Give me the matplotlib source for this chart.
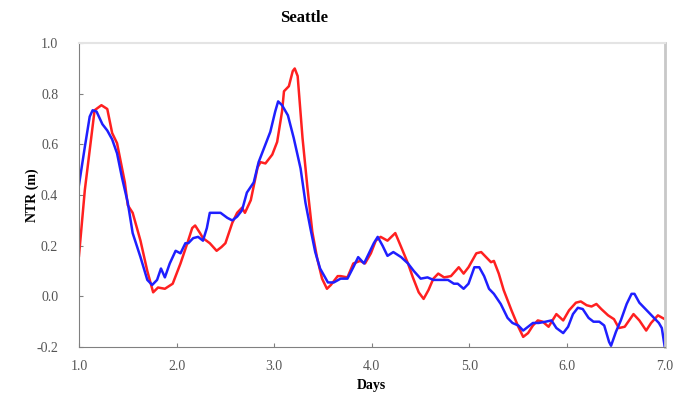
import matplotlib
matplotlib.use("Agg")
import matplotlib.pyplot as plt
import numpy as np

# Non-tidal residual at Seattle: observed (red) and modelled (blue)
red_days = [1.00, 1.06, 1.16, 1.23, 1.29, 1.34, 1.39, 1.47, 1.50, 1.55, 1.63, 1.70, 1.76,
            1.81, 1.88, 1.96, 2.04, 2.11, 2.16, 2.19, 2.24, 2.27, 2.34, 2.41, 2.46, 2.50,
            2.57, 2.62, 2.67, 2.70, 2.76, 2.83, 2.86, 2.91, 2.98, 3.03, 3.08, 3.10, 3.15,
            3.19, 3.21, 3.24, 3.29, 3.34, 3.39, 3.44, 3.49, 3.54, 3.58, 3.65, 3.68, 3.75,
            3.81, 3.88, 3.93, 3.99, 4.04, 4.09, 4.16, 4.24, 4.30, 4.37, 4.42, 4.48, 4.53,
            4.58, 4.63, 4.68, 4.74, 4.81, 4.89, 4.94, 4.99, 5.07, 5.12, 5.17, 5.22, 5.25,
            5.30, 5.35, 5.43, 5.50, 5.55, 5.60, 5.65, 5.70, 5.75, 5.81, 5.89, 5.96, 6.02,
            6.09, 6.14, 6.20, 6.25, 6.30, 6.35, 6.42, 6.48, 6.53, 6.59, 6.68, 6.74, 6.81,
            6.86, 6.93, 7.00]
red_ntr = [0.16, 0.42, 0.735, 0.755, 0.74, 0.645, 0.605, 0.45, 0.36, 0.33, 0.22, 0.10, 0.016,
           0.035, 0.03, 0.05, 0.13, 0.21, 0.27, 0.28, 0.25, 0.23, 0.21, 0.18, 0.195, 0.21,
           0.29, 0.33, 0.35, 0.33, 0.38, 0.51, 0.53, 0.525, 0.56, 0.61, 0.73, 0.81, 0.83,
           0.89, 0.90, 0.87, 0.625, 0.43, 0.255, 0.15, 0.07, 0.03, 0.045, 0.08, 0.08, 0.075,
           0.13, 0.14, 0.13, 0.17, 0.22, 0.235, 0.22, 0.25, 0.195, 0.13, 0.075, 0.016, -0.01,
           0.025, 0.07, 0.09, 0.075, 0.08, 0.115, 0.09, 0.115, 0.17, 0.175, 0.155, 0.135, 0.14,
           0.09, 0.025, -0.055, -0.12, -0.16, -0.145, -0.115, -0.095, -0.10, -0.12, -0.07, -0.095, -0.055,
           -0.025, -0.02, -0.035, -0.04, -0.03, -0.05, -0.075, -0.09, -0.125, -0.12, -0.07, -0.095, -0.135,
           -0.105, -0.075, -0.09]

blue_days = [1.00, 1.06, 1.11, 1.14, 1.18, 1.24, 1.29, 1.34, 1.39, 1.44, 1.50, 1.55, 1.63,
             1.70, 1.75, 1.80, 1.84, 1.88, 1.93, 1.99, 2.04, 2.09, 2.12, 2.17, 2.22, 2.27,
             2.31, 2.34, 2.40, 2.45, 2.52, 2.57, 2.62, 2.67, 2.72, 2.79, 2.84, 2.91, 2.96,
             3.01, 3.04, 3.08, 3.14, 3.20, 3.27, 3.32, 3.37, 3.42, 3.47, 3.55, 3.61, 3.68,
             3.75, 3.81, 3.86, 3.92, 3.97, 4.02, 4.06, 4.11, 4.16, 4.22, 4.30, 4.37, 4.43,
             4.50, 4.57, 4.63, 4.71, 4.78, 4.84, 4.88, 4.94, 4.99, 5.05, 5.10, 5.15, 5.20,
             5.25, 5.32, 5.39, 5.44, 5.50, 5.55, 5.60, 5.65, 5.71, 5.78, 5.84, 5.89, 5.96,
             6.01, 6.06, 6.11, 6.16, 6.22, 6.27, 6.33, 6.38, 6.43, 6.45, 6.50, 6.55, 6.61,
             6.66, 6.69, 6.74, 6.79, 6.84, 6.89, 6.94, 6.97, 7.00]
blue_ntr = [0.44, 0.59, 0.71, 0.735, 0.73, 0.68, 0.655, 0.62, 0.565, 0.47, 0.37, 0.25, 0.155,
            0.065, 0.045, 0.065, 0.11, 0.075, 0.13, 0.18, 0.17, 0.21, 0.21, 0.23, 0.235, 0.22,
            0.27, 0.33, 0.33, 0.33, 0.31, 0.30, 0.315, 0.34, 0.41, 0.45, 0.53, 0.60, 0.65,
            0.73, 0.77, 0.755, 0.715, 0.625, 0.505, 0.37, 0.27, 0.175, 0.11, 0.055, 0.055, 0.07,
            0.07, 0.115, 0.155, 0.13, 0.17, 0.21, 0.235, 0.20, 0.16, 0.175, 0.155, 0.13, 0.10,
            0.07, 0.075, 0.065, 0.065, 0.065, 0.05, 0.05, 0.03, 0.05, 0.115, 0.115, 0.08, 0.03,
            0.01, -0.03, -0.085, -0.105, -0.115, -0.135, -0.12, -0.105, -0.105, -0.10, -0.095, -0.125, -0.145,
            -0.12, -0.07, -0.045, -0.05, -0.085, -0.10, -0.10, -0.115, -0.18, -0.195, -0.14, -0.095, -0.03,
            0.01, 0.01, -0.025, -0.045, -0.065, -0.085, -0.105, -0.125, -0.20]

x_ticks = [1.0, 2.0, 3.0, 4.0, 5.0, 6.0, 7.0]
y_ticks = [-0.2, 0.0, 0.2, 0.4, 0.6, 0.8, 1.0]

plt.rcParams['font.family'] = ['Liberation Serif', 'DejaVu Serif']

fig = plt.figure(figsize=(6.79, 3.96), dpi=100)
ax = fig.add_axes([0.1163, 0.1237, 0.979 - 0.1163, 0.891 - 0.1237])

ax.plot(red_days, red_ntr, color='#ff2020', lw=1.8, solid_joinstyle='round')
ax.plot(blue_days, blue_ntr, color='#1f1fff', lw=1.8, solid_joinstyle='round')

ax.set_xlim(1.0, 7.0)
ax.set_ylim(-0.2, 1.0)
ax.set_xticks(x_ticks)
ax.set_yticks(y_ticks)
ax.set_xticklabels([f"{t:.1f}" for t in x_ticks])
ax.set_yticklabels([f"{t:.1f}" for t in y_ticks])
ax.tick_params(axis='both', direction='in', length=3, width=0.8, color='#808080',
               labelsize=10, labelcolor='#555555')
ax.tick_params(axis='x', pad=9)
ax.tick_params(axis='y', pad=15)

ax.spines['left'].set_color('#808080')
ax.spines['bottom'].set_color('#808080')
ax.spines['top'].set_color('#e4e4e4')
ax.spines['top'].set_linewidth(1.5)
ax.spines['right'].set_color('#c8c8c8')
ax.spines['right'].set_linewidth(2.0)

ax.set_xlabel('Days', fontsize=10, fontweight='bold', va='center')
ax.set_ylabel('NTR (m)', fontsize=10, fontweight='bold', va='center')
ax.xaxis.set_label_coords(0.5, (347 - 386) / 304)
ax.yaxis.set_label_coords((32 - 79) / 586, 0.5)

fig.text(304 / 679, 1 - 18 / 396, 'Seattle', fontsize=12, fontweight='bold',
         ha='center', va='center')

fig.savefig('out.png', dpi=100)
